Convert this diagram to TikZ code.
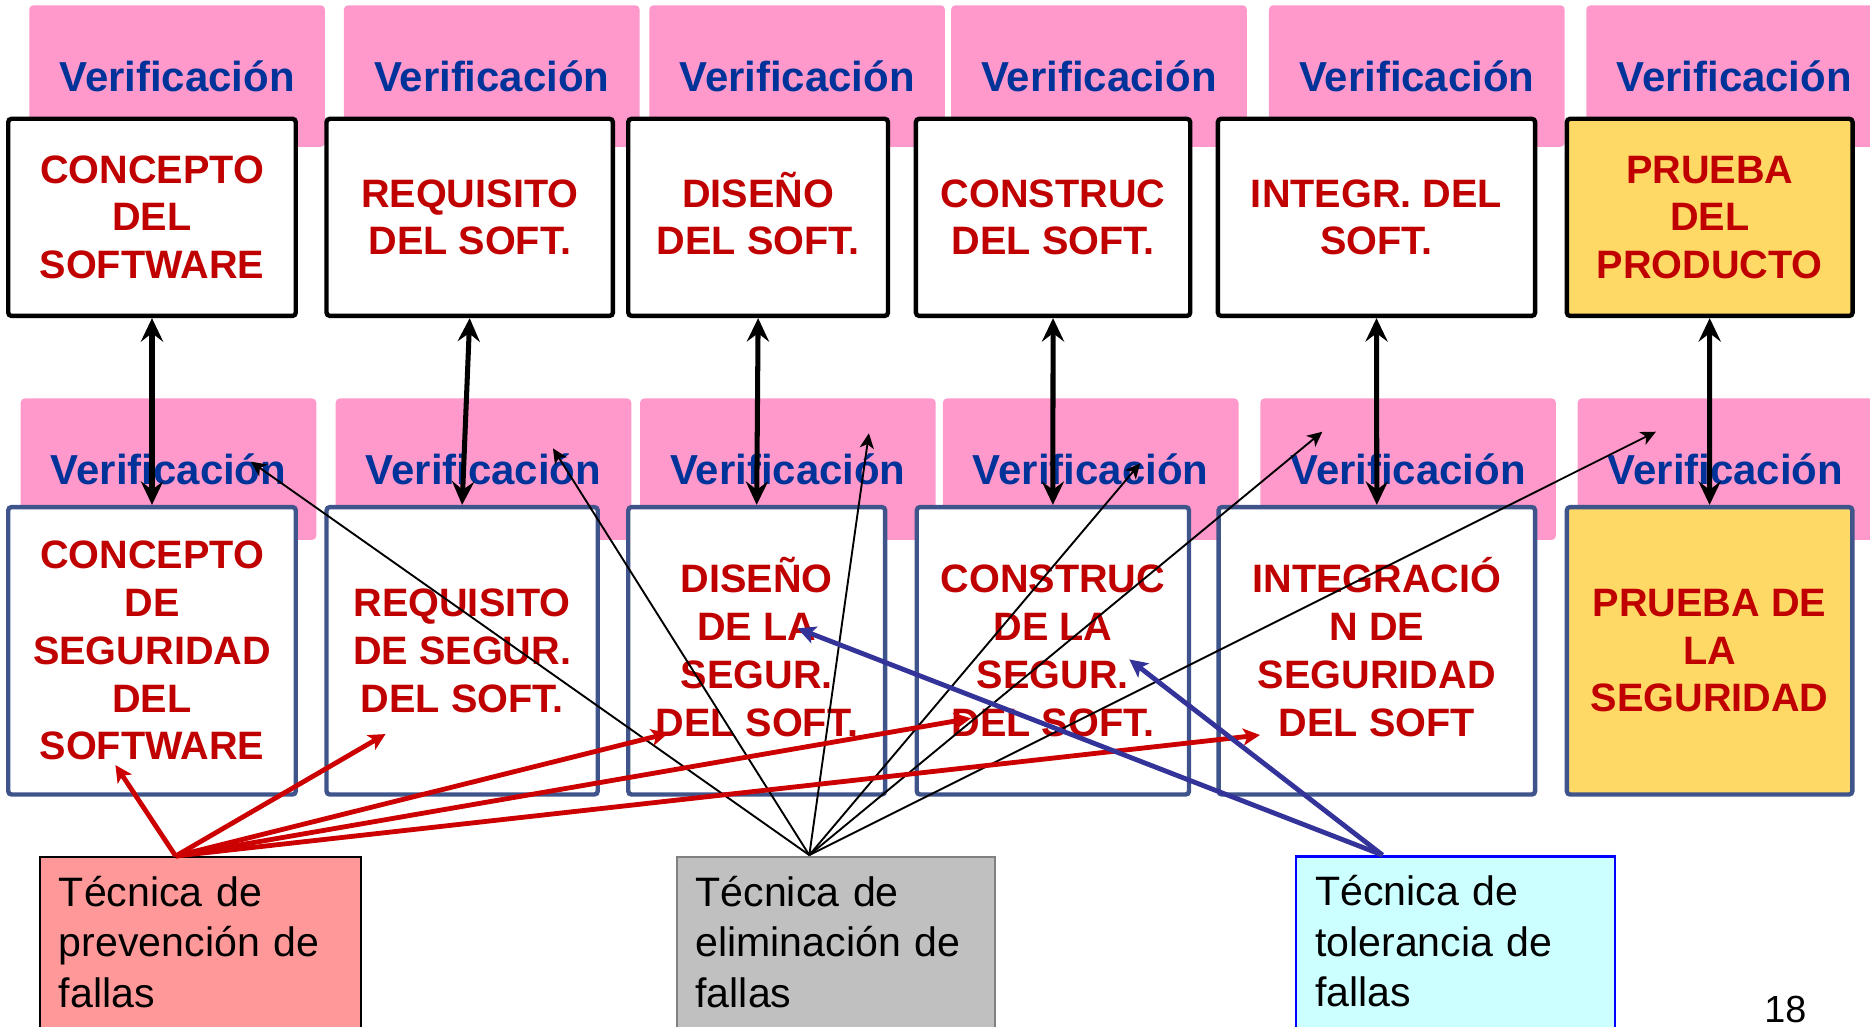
\documentclass[tikz,border=0pt]{standalone}
\usepackage{fontspec}
\setmainfont{Liberation Sans}
\usetikzlibrary{arrows.meta,calc}
\definecolor{pinkv}{HTML}{FF99CC}
\definecolor{verblue}{HTML}{003399}
\definecolor{boxred}{HTML}{C00000}
\definecolor{yellowb}{HTML}{FFD966}
\definecolor{botblue}{HTML}{40548C}
\definecolor{arrred}{HTML}{CC0000}
\definecolor{arrblue}{HTML}{333399}
\definecolor{prevfill}{HTML}{FF9999}
\definecolor{elimfill}{HTML}{C0C0C0}
\definecolor{elimdraw}{HTML}{808080}
\definecolor{tolfill}{HTML}{CCFFFF}
\definecolor{toldraw}{HTML}{0000FF}
\begin{document}
\begin{tikzpicture}[x=0.01cm,y=-0.01cm,
  pinkbox/.style={fill=pinkv, draw=none, rounded corners=1pt, minimum width=2.478cm, minimum height=1.186cm, inner sep=0pt, text=verblue, font=\fontsize{10}{12}\selectfont\bfseries},
  topbox/.style={draw=black, line width=1.05pt, fill=white, rounded corners=0.8pt, minimum height=1.652cm, inner sep=0pt, align=center, text=boxred, font=\fontsize{9.45}{11.38}\selectfont\bfseries},
  botbox/.style={topbox, draw=botblue, minimum height=2.409cm},
  techbox/.style={line width=0.5pt, minimum height=1.9cm, inner sep=0pt, anchor=north west},
  techtext/.style={anchor=base west, inner sep=0pt, text width=2.6cm, align=left, font=\fontsize{9.8}{12.09}\selectfont},
  dbl/.style={line width=1.2pt, {Stealth[length=5.6pt,width=5.3pt,inset=2pt]}-{Stealth[length=5.6pt,width=5.3pt,inset=2pt]}},
  thinarr/.style={line width=0.45pt, -{Stealth[length=3.6pt,width=3.4pt,inset=1pt]}},
  redarr/.style={draw=arrred, line width=1.15pt, -{Stealth[length=4pt,width=4pt,inset=1pt]}},
  bluearr/.style={draw=arrblue, line width=1.15pt, -{Stealth[length=4.3pt,width=4.2pt,inset=1pt]}}
]
\useasboundingbox (0,0) rectangle (1568,861.1);
\clip (0,0) rectangle (1568,861.1);

% top pink
\node[pinkbox] (pt1) at (148.5,63.75) {Verificación};
\node[pinkbox] (pt2) at (412.35,63.75) {Verificación};
\node[pinkbox] (pt3) at (668.4,63.75) {Verificación};
\node[pinkbox] (pt4) at (921.55,63.75) {Verificación};
\node[pinkbox] (pt5) at (1188,63.75) {Verificación};
\node[pinkbox] (pt6) at (1454.1,63.75) {Verificación};
% bottom pink
\node[pinkbox] (pb1) at (141.3,393.4) {Verificación};
\node[pinkbox] (pb2) at (405.4,393.4) {Verificación};
\node[pinkbox] (pb3) at (660.65,393.4) {Verificación};
\node[pinkbox] (pb4) at (914.55,393.4) {Verificación};
\node[pinkbox] (pb5) at (1180.7,393.4) {Verificación};
\node[pinkbox] (pb6) at (1446.8,393.4) {Verificación};

% top boxes
\node[topbox, minimum width=2.41cm] (t1) at (127.45,182.25) {CONCEPTO\\DEL\\SOFTWARE};
\node[topbox, minimum width=2.40cm] (t2) at (393.85,182.25) {REQUISITO\\DEL SOFT.};
\node[topbox, minimum width=2.177cm] (t3) at (635.7,182.25) {DISE\smash{Ñ}O\\DEL SOFT.};
\node[topbox, minimum width=2.299cm] (t4) at (883,182.25) {CONSTRUC\\DEL SOFT.};
\node[topbox, minimum width=2.659cm] (t5) at (1154.2,182.25) {INTEGR. DEL\\SOFT.};
\node[topbox, minimum width=2.395cm, fill=yellowb] (t6) at (1433.6,182.25) {PRUEBA\\DEL\\PRODUCTO};

% bottom boxes
\node[botbox, minimum width=2.41cm] (b1) at (127.45,545.7) {CONCEPTO\\DE\\SEGURIDAD\\DEL\\SOFTWARE};
\node[botbox, minimum width=2.273cm] (b2) at (387.5,545.7) {REQUISITO\\DE SEGUR.\\DEL SOFT.};
\node[botbox, minimum width=2.153cm] (b3) at (634.5,545.7) {DISE\smash{Ñ}O\\DE LA\\SEGUR.\\DEL SOFT.};
\node[botbox, minimum width=2.282cm] (b4) at (882.85,545.7) {CONSTRUC\\DE LA\\SEGUR.\\DEL SOFT.};
\node[botbox, minimum width=2.653cm] (b5) at (1154.5,545.7) {INTEGRACI\smash{Ó}\\N DE\\SEGURIDAD\\DEL SOFT};
\node[botbox, minimum width=2.393cm, fill=yellowb] (b6) at (1433.5,545.7) {PRUEBA DE\\LA\\SEGURIDAD};

% double arrows
\foreach \i in {1,...,6} \draw[dbl] (t\i.south) -- (b\i.north);

% technique boxes
\node[techbox, draw=black, fill=prevfill, minimum width=2.69cm] (prev) at (32.7,717.8) {};
\node[techbox, draw=elimdraw, fill=elimfill, minimum width=2.665cm] (elim) at (566.5,717.8) {};
\node[techbox, draw=toldraw, fill=tolfill, minimum width=2.674cm] (tol) at (1086,717.3) {};
\node[techtext] (prevt) at ($(prev.north west)+(16,42)$) {Técnica de\\prevención de\\fallas};
\node[techtext] (elimt) at ($(elim.north west)+(16,42)$) {Técnica de\\eliminación de\\fallas};
\node[techtext] (tolt) at ($(tol.north west)+(16,42)$) {Técnica de\\tolerancia de\\fallas};
\node[anchor=base, inner sep=0pt, font=\fontsize{9}{11}\selectfont] (pg) at (1497,857) {18};

% connector origins and free ends
\coordinate (eO) at (678.6,717);
\coordinate (pO) at (147.3,717.8);
\coordinate (tO) at (1159.3,717);
\coordinate (e1) at (210.4,387.1);
\coordinate (e2) at (463.7,376);
\coordinate (e3) at (728.6,363.3);
\coordinate (e4) at (956,388.5);
\coordinate (e5) at (1108.8,362);
\coordinate (e6) at (1388.5,362);
\coordinate (r1) at (96.8,641.5);
\coordinate (r2) at (323.3,615.5);
\coordinate (r3) at (560.2,614.9);
\coordinate (r4) at (814.1,602.3);
\coordinate (r5) at (1056.5,616.3);
\coordinate (u1) at (668.7,526.9);
\coordinate (u2) at (946.9,552.9);

\foreach \k in {1,...,6} \draw[thinarr] (eO) -- (e\k);
\foreach \k in {1,...,5} \draw[redarr] (pO) -- (r\k);
\foreach \k in {1,2} \draw[bluearr] (tO) -- (u\k);
\end{tikzpicture}
\end{document}
